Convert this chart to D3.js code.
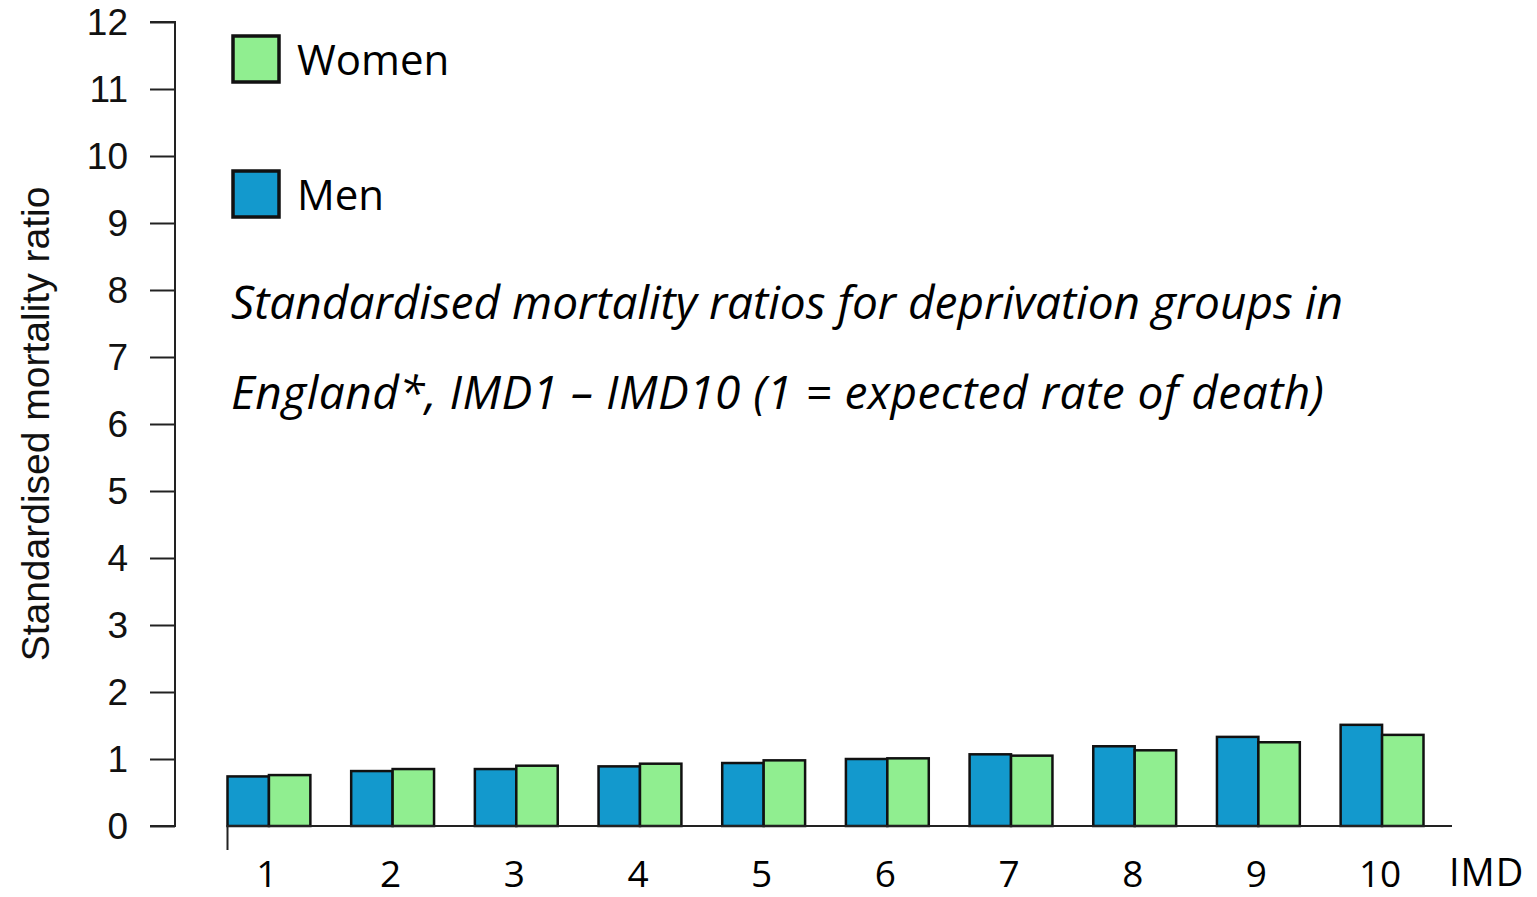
<!DOCTYPE html>
<html>
<head>
<meta charset="utf-8">
<script src="https://cdn.jsdelivr.net/npm/d3@7"></script>
<style>
  body { margin: 0; background: #fff; }
</style>
</head>
<body>
<div class="BarChart"></div>
<script>
// Data
const groups = ["1", "2", "3", "4", "5", "6", "7", "8", "9", "10"];
const men = [0.74, 0.82, 0.85, 0.89, 0.94, 1.0, 1.07, 1.19, 1.33, 1.51];
const women = [0.76, 0.85, 0.9, 0.93, 0.98, 1.01, 1.05, 1.13, 1.25, 1.36];
const series = ["Men", "Women"];
const yTicks = [0, 1, 2, 3, 4, 5, 6, 7, 8, 9, 10, 11, 12];

const colors = { Men: "#1399cd", Women: "#90ee90" };

const width = 1537;
const height = 897;

const svg = d3
  .select(".BarChart")
  .append("svg")
  .attr("width", width)
  .attr("height", height);

// Scales
const xScale = d3
  .scaleBand()
  .domain(groups)
  .range([227.5, 1423.5])
  .paddingInner(0.33)
  .paddingOuter(0);

const xInner = d3
  .scaleBand()
  .domain(series)
  .range([0, xScale.bandwidth()]);

const yScale = d3.scaleLinear().domain([0, 12]).range([826, 22]);

// Y axis
const yAxis = svg
  .append("g")
  .attr("transform", "translate(175,0)")
  .call(d3.axisLeft(yScale).tickValues(yTicks).tickSize(25).tickPadding(22));
yAxis.select(".domain").attr("d", `M-25,${yScale(12)}H0V${yScale(0)}H-25`)
  .attr("stroke", "#222").attr("stroke-width", 2);
yAxis.selectAll(".tick line").attr("stroke", "#222").attr("stroke-width", 2);
yAxis
  .selectAll(".tick text")
  .attr("font-family", "Liberation Sans, Arial, sans-serif")
  .attr("font-size", 37)
  .attr("fill", "#111")
  .attr("dy", "0.35em");

svg
  .append("text")
  .attr("transform", `translate(49,${(yScale(0) + yScale(12)) / 2}) rotate(-90)`)
  .attr("text-anchor", "middle")
  .attr("font-family", "Liberation Sans, Arial, sans-serif")
  .attr("font-size", 39)
  .attr("fill", "#111")
  .text("Standardised mortality ratio");

// Bars
const rows = groups.map((g, i) => ({ group: g, Men: men[i], Women: women[i] }));

svg
  .append("g")
  .selectAll("g")
  .data(rows)
  .join("g")
  .attr("transform", (d) => `translate(${xScale(d.group)},0)`)
  .selectAll("rect")
  .data((d) => series.map((s) => ({ key: s, value: d[s] })))
  .join("rect")
  .attr("x", (d) => xInner(d.key))
  .attr("width", xInner.bandwidth())
  .attr("y", (d) => yScale(d.value))
  .attr("height", (d) => yScale(0) - yScale(d.value))
  .attr("fill", (d) => colors[d.key])
  .attr("stroke", "#111")
  .attr("stroke-width", 2.5);

// X axis line with the small tick at the start
svg
  .append("path")
  .attr("d", `M${xScale.range()[0]},850V${yScale(0)}H1452`)
  .attr("fill", "none")
  .attr("stroke", "#222")
  .attr("stroke-width", 2);

svg
  .append("g")
  .selectAll("text")
  .data(groups)
  .join("text")
  .attr("x", (d) => xScale(d) + xScale.bandwidth() / 2 - 2)
  .attr("y", 887)
  .attr("text-anchor", "middle")
  .attr("font-family", "Open Sans, sans-serif")
  .attr("font-size", 37)
  .attr("fill", "#000")
  .text((d) => d);

svg
  .append("text")
  .attr("x", 1449)
  .attr("y", 886)
  .attr("font-family", "Open Sans, sans-serif")
  .attr("font-size", 38)
  .attr("letter-spacing", 1)
  .attr("fill", "#000")
  .text("IMD");

// Legend
const legendItems = [
  { key: "Women", y: 36 },
  { key: "Men", y: 171 },
];
const legend = svg.append("g").selectAll("g").data(legendItems).join("g");
legend
  .append("rect")
  .attr("x", 233)
  .attr("y", (d) => d.y)
  .attr("width", 46)
  .attr("height", 46)
  .attr("fill", (d) => colors[d.key])
  .attr("stroke", "#111")
  .attr("stroke-width", 3.5);
legend
  .append("text")
  .attr("x", 297)
  .attr("y", (d) => d.y + 39)
  .attr("font-family", "Open Sans, sans-serif")
  .attr("font-size", 42)
  .attr("fill", "#000")
  .text((d) => d.key);

// Title in italics
const titleLines = [
  "Standardised mortality ratios for deprivation groups in",
  "England*, IMD1 \u2013 IMD10 (1 = expected rate of death)",
];
svg
  .append("g")
  .selectAll("text")
  .data(titleLines)
  .join("text")
  .attr("x", 231)
  .attr("y", (d, i) => 319 + i * 90)
  .attr("font-family", "Open Sans, sans-serif")
  .attr("font-style", "italic")
  .attr("font-size", 46)
  .attr("letter-spacing", (d, i) => (i === 1 ? 0.5 : 0))
  .attr("fill", "#000")
  .text((d) => d);
</script>
</body>
</html>
